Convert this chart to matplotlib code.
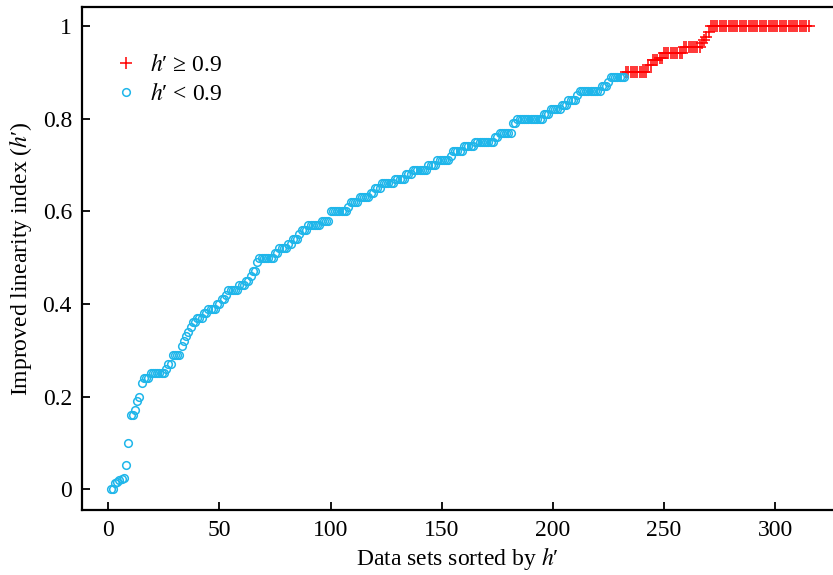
"""
Improved linearity index h' for all data sets, sorted ascending
"""
import numpy as np
import matplotlib
matplotlib.use('Agg')
import matplotlib.pyplot as plt

plt.rcParams['font.family'] = ['Liberation Serif', 'DejaVu Serif']
plt.rcParams['mathtext.fontset'] = 'stix'
plt.rcParams['font.size'] = 17

# h' levels and how many data sets sit on each level
levels = [0.0, 0.013, 0.015, 0.02, 0.023, 0.025, 0.053, 0.10, 0.16, 0.17,
          0.19, 0.20, 0.23, 0.24, 0.25, 0.26, 0.27, 0.29, 0.31, 0.32,
          0.33, 0.34, 0.35, 0.36, 0.37, 0.38, 0.39, 0.40, 0.41, 0.42,
          0.43, 0.44, 0.45, 0.46, 0.47, 0.49, 0.50, 0.51, 0.52, 0.53,
          0.54, 0.55, 0.56, 0.57, 0.58, 0.60, 0.61, 0.62, 0.63, 0.64,
          0.65, 0.66, 0.67, 0.68, 0.69, 0.70, 0.71, 0.72, 0.73, 0.74,
          0.75, 0.76, 0.77, 0.79, 0.80, 0.81, 0.82, 0.83, 0.84, 0.85,
          0.86, 0.87, 0.88, 0.89, 0.90, 0.915, 0.926, 0.93, 0.942, 0.954,
          0.963, 0.97, 0.977, 0.988, 1.0]
counts = [2, 1, 1, 1, 1, 1, 1, 1, 2, 1,
          1, 1, 1, 3, 7, 1, 2, 4, 1, 1,
          1, 1, 1, 2, 3, 2, 4, 2, 2, 1,
          5, 3, 2, 1, 2, 1, 7, 2, 4, 2,
          3, 1, 3, 6, 4, 8, 1, 4, 5, 2,
          3, 6, 5, 3, 7, 4, 6, 1, 5, 5,
          9, 2, 6, 2, 12, 3, 5, 3, 4, 1,
          10, 3, 1, 7, 10, 2, 3, 2, 9, 8,
          1, 1, 1, 1, 45]

h = np.repeat(levels, counts)
idx = np.arange(1, len(h) + 1)
threshold = 0.9

hi = h >= threshold
lo = ~hi

fig = plt.figure(figsize=(8.33, 5.75), dpi=100)
ax = fig.add_axes([0.098, 0.113, 0.902, 0.874])

ax.plot(idx[hi], h[hi], '+', color='#ff0000', markersize=9, markeredgewidth=1.1,
        label='$h$\u2032 \u2265 0.9')
ax.plot(idx[lo], h[lo], 'o', color='#1fb6ea', markerfacecolor='none',
        markersize=5.5, markeredgewidth=1.1, label='$h$\u2032 < 0.9')

ax.set_xlim(-12, 326)
ax.set_ylim(-0.045, 1.04)
ax.set_xticks([0, 50, 100, 150, 200, 250, 300])
ax.set_yticks([0, 0.2, 0.4, 0.6, 0.8, 1.0])
ax.set_yticklabels(['0', '0.2', '0.4', '0.6', '0.8', '1'])
ax.tick_params(direction='in', length=6, width=1.3, labelsize=17, pad=7)
for s in ['left', 'bottom', 'top']:
    ax.spines[s].set_linewidth(1.6)
ax.spines['right'].set_visible(False)

ax.set_xlabel('Data sets sorted by $h$\u2032', fontsize=17, labelpad=3)
ax.set_ylabel('Improved linearity index ($h$\u2032)', fontsize=17, labelpad=6)

ax.legend(loc='upper left', bbox_to_anchor=(0.022, 0.94), frameon=False,
          fontsize=17, handletextpad=0.5, handlelength=1.0,
          borderaxespad=0.3, labelspacing=0.3)

fig.savefig('out.png', dpi=100)
